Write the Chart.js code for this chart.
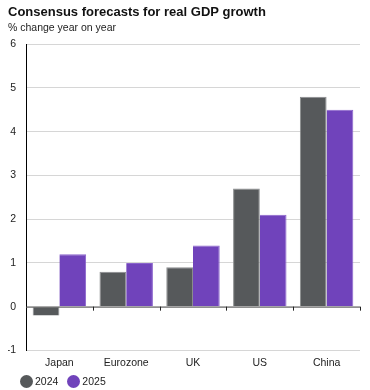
<!DOCTYPE html>
<html><head><meta charset="utf-8">
<script src="https://cdn.jsdelivr.net/npm/chart.js@4"></script>
<style>
html,body{margin:0;padding:0;background:#fff}
#w{position:relative;width:370px;height:390px}
#lg{position:absolute;left:20px;top:374px;height:14px;display:flex;align-items:center;font:10.5px 'Liberation Sans',Arial,sans-serif;color:#222}
#lg span.i{display:flex;align-items:center;margin-right:9px}
#lg span.d{width:13px;height:13px;border-radius:50%;display:inline-block;margin-right:2px}
</style>
</head><body><div id="w"><canvas id="c"></canvas><div id="lg"></div></div>
<script>
const categories = ["Japan","Eurozone","UK","US","China"];
const series2024 = [-0.2, 0.8, 0.9, 2.7, 4.8];
const series2025 = [1.2, 1.0, 1.4, 2.1, 4.5];
const seriesNames = ["2024","2025"];
const yTicks = [-1,0,1,2,3,4,5,6];

const catTicks = {
  id:'catTicks',
  afterDatasetsDraw(chart){
    const x = chart.scales.x, y = chart.scales.y, ctx = chart.ctx;
    const half = (x.getPixelForValue(1)-x.getPixelForValue(0))/2;
    const y0 = y.getPixelForValue(0);
    ctx.save();
    ctx.strokeStyle='#555'; ctx.lineWidth=1;
    ctx.beginPath(); ctx.moveTo(x.left, y0+0.5); ctx.lineTo(x.right, y0+0.5); ctx.stroke();
    ctx.strokeStyle='#222';
    for(let i=0;i<categories.length;i++){
      const px = Math.round(x.getPixelForValue(i)+half)+0.5;
      ctx.beginPath(); ctx.moveTo(px,y0); ctx.lineTo(px,y0+4); ctx.stroke();
    }
    ctx.restore();
  }
};

const F = 'Liberation Sans, Arial';
const chart = new Chart(document.getElementById('c'),{
  type:'bar',
  data:{labels:categories,datasets:[
    {label:seriesNames[0],data:series2024,backgroundColor:'#56595b',borderColor:'#8a8c8e',borderWidth:{top:1,left:1,right:1,bottom:0},categoryPercentage:0.8,barPercentage:1},
    {label:seriesNames[1],data:series2025,backgroundColor:'#7043bb',borderColor:'#8a63cc',borderWidth:{top:1,left:0,right:1,bottom:0},categoryPercentage:0.8,barPercentage:1}
  ]},
  options:{
    responsive:true,maintainAspectRatio:false,animation:false,
    layout:{padding:{left:8,right:10,top:3,bottom:15}},
    plugins:{
      title:{display:true,text:'Consensus forecasts for real GDP growth',align:'start',color:'#111',font:{family:F,size:13,weight:'bold'},padding:{top:2,bottom:1}},
      subtitle:{display:true,text:'% change year on year',align:'start',color:'#222',font:{family:F,size:10.5},padding:{top:0,bottom:10}},
      legend:{display:false},
      tooltip:{enabled:false}
    },
    scales:{
      x:{grid:{display:false,tickLength:0},border:{display:false},ticks:{color:'#222',font:{family:F,size:10.5},padding:6}},
      y:{min:-1,max:6,afterBuildTicks(s){s.ticks=yTicks.map(v=>({value:v}));},
         afterFit(s){s.width=18;},
         grid:{color:'#d6d6d6',drawTicks:false,tickLength:0},border:{display:true,color:'#000',width:1},
         ticks:{color:'#222',padding:10,font:{family:F,size:10.5}}}
    }
  },
  plugins:[catTicks]
});
const lg = document.getElementById('lg');
chart.data.datasets.forEach(ds=>{
  const it=document.createElement('span'); it.className='i';
  const d=document.createElement('span'); d.className='d'; d.style.background=ds.backgroundColor;
  it.appendChild(d); it.appendChild(document.createTextNode(ds.label)); lg.appendChild(it);
});
</script></body></html>
